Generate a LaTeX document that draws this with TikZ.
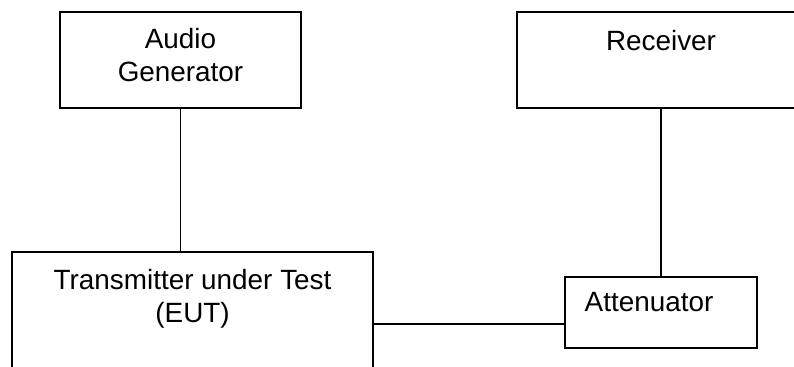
\documentclass[tikz,border=0pt]{standalone}
\usepackage{fontspec}
\setmainfont{Liberation Sans}
\usetikzlibrary{positioning}
\tikzset{%
  box/.style = {rectangle,draw,line width=1.3pt,inner sep=0pt},
  lbl/.style = {inner sep=0pt,align=center,
        font=\fontsize{20.9pt}{24.75pt}\selectfont},
  wire/.style = {line width=1.3pt}
}
\begin{document}
\begin{tikzpicture}
\useasboundingbox (0,0) rectangle (595.5pt,-275.25pt);
% boxes
\node[box,minimum width=180.75pt,minimum height=72pt] (gen) at (135.4pt,-45pt) {};
\node[box,minimum width=216pt,minimum height=72pt] (rx) at (495.75pt,-45pt) {};
\node[box,minimum width=270.75pt,minimum height=126pt] (tx) at (144.4pt,-252pt) {};
\node[box,minimum width=144pt,minimum height=53.25pt] (att) at (495.75pt,-234.4pt) {};
% texts
\node[lbl,below=12.5pt of gen.north] (gentxt) {Audio\\Generator};
\node[lbl,below=14pt of rx.north] (rxtxt) {Receiver};
\node[lbl,below=13.25pt of tx.north] (txtxt) {Transmitter under Test\\(EUT)};
\node[lbl,below=12pt of att.north,xshift=-9pt] (atttxt) {Attenuator};
% connections
\draw[wire] (gen.south) -- (gen.south |- tx.north);
\draw[wire] (rx.south) -- (att.north);
\draw[wire] ([yshift=-8.6pt]att.west) -- ([yshift=-8.6pt]att.west -| tx.east);
\end{tikzpicture}
\end{document}
